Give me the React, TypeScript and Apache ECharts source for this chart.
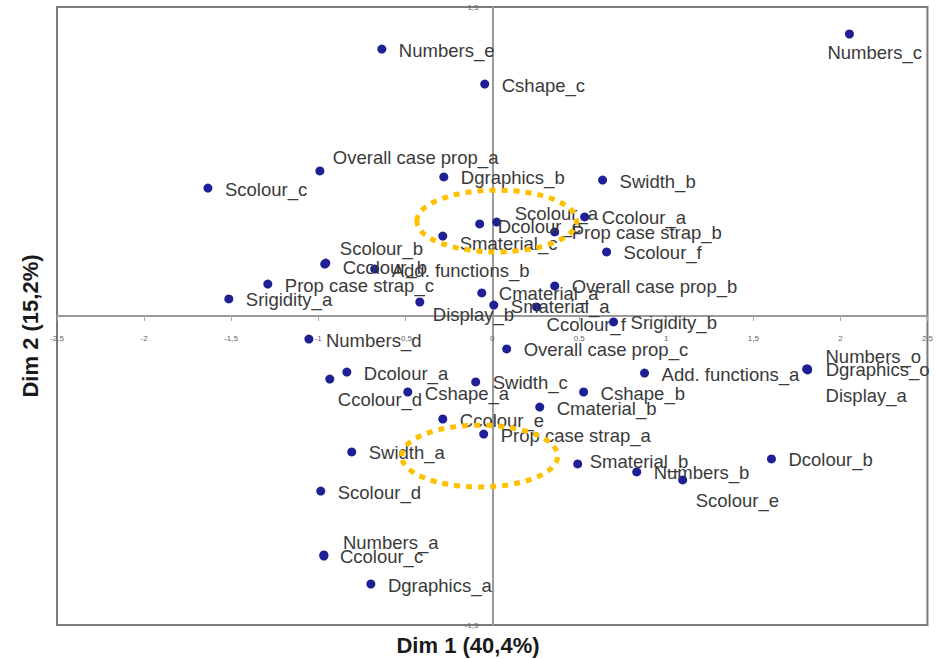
import React, { useEffect, useRef } from "react";
import * as echarts from "echarts";

const names = [
  "Numbers_c", "Numbers_e", "Cshape_c", "Overall case prop_a", "Dgraphics_b", "Swidth_b",
  "Scolour_c", "Ccolour_a", "Scolour_a", "Dcolour_c", "Smaterial_c", "Prop case strap_b",
  "Scolour_f", "Ccolour_b", "Scolour_b", "Add. functions_b", "Prop case strap_c", "Srigidity_a",
  "Display_b", "Cmaterial_a", "Smaterial_a", "Ccolour_f", "Overall case prop_b", "Srigidity_b",
  "Numbers_d", "Overall case prop_c", "Dcolour_a", "Ccolour_d", "Cshape_a", "Swidth_c",
  "Add. functions_a", "Cshape_b", "Cmaterial_b", "Ccolour_e", "Prop case strap_a", "Smaterial_b",
  "Numbers_b", "Scolour_e", "Dcolour_b", "Numbers_o", "Dgraphics_o", "Display_a",
  "Swidth_a", "Scolour_d", "Numbers_a", "Ccolour_c", "Dgraphics_a",
];

const dim1 = [
  2.052, -0.634, -0.043, -0.99, -0.278, 0.634,
  -1.633, 0.531, 0.026, -0.072, -0.284, 0.359,
  0.657, -0.962, -0.956, -0.675, -1.289, -1.513,
  -0.416, -0.06, 0.009, 0.255, 0.359, 0.697,
  -1.053, 0.083, -0.835, -0.933, -0.485, -0.095,
  0.875, 0.525, 0.273, -0.284, -0.049, 0.491,
  0.83, 1.094, 1.604, 1.811, 1.812, 1.806,
  -0.807, -0.985, -0.967, -0.967, -0.697,
];

const dim2 = [
  1.369, 1.296, 1.126, 0.704, 0.675, 0.66,
  0.621, 0.481, 0.456, 0.447, 0.388, 0.408,
  0.311, 0.252, 0.257, 0.228, 0.155, 0.083,
  0.068, 0.112, 0.053, 0.044, 0.146, -0.029,
  -0.112, -0.16, -0.272, -0.306, -0.369, -0.32,
  -0.277, -0.369, -0.442, -0.5, -0.573, -0.718,
  -0.757, -0.796, -0.694, -0.257, -0.262, -0.257,
  -0.66, -0.85, -1.16, -1.165, -1.301,
];

const xTicks = [-2.5, -2, -1.5, -1, -0.5, 0, 0.5, 1, 1.5, 2, 2.5];
const yTickLabels = [-1.5, 1.5];

// Highlight ellipses (annotations): centre and radii in data units
const ellipseCx = [0.026, -0.072];
const ellipseCy = [0.461, -0.68];
const ellipseRx = [0.459, 0.448];
const ellipseRy = [0.15, 0.15];

// label nudges (pixels from dot centre to label start / label middle)
const labelNudge: Record<string, [number, number]> = {
  "Numbers_c": [-22, 19],
  "Overall case prop_a": [13, -13],
  "Scolour_a": [18, -9],
  "Dcolour_c": [18, 3],
  "Smaterial_c": [17, 7],
  "Scolour_b": [14, -15],
  "Ccolour_b": [18, 3],
  "Display_b": [13, 13],
  "Ccolour_f": [10, 18],
  "Ccolour_d": [8, 20],
  "Smaterial_b": [12, -2],
  "Scolour_e": [13, 21],
  "Numbers_o": [18, -12],
  "Dgraphics_o": [18, 0],
  "Display_a": [19, 27],
  "Numbers_a": [19, -12],
  "Ccolour_c": [16, 1],
};

const fmt = (v: number) => String(v).replace(".", ",");

const GRID_LEFT = 57;
const GRID_TOP = 7;
const GRID_W = 871;
const GRID_H = 618;

export default function App() {
  const ref = useRef<HTMLDivElement>(null);
  useEffect(() => {
    document.body.style.margin = "0";
    if (!ref.current) return;
    const chart = echarts.init(ref.current, undefined, { renderer: "svg" });
    const font = "'Liberation Sans', Arial, sans-serif";
    const data = names.map((n, i) => ({ name: n, value: [dim1[i], dim2[i]] }));
    const xMin = -2.5, xMax = 2.5, yMin = -1.5, yMax = 1.5;
    // offsets that bring each axis onto the other axis' zero
    const xAxisOffset = -(GRID_H * (0 - yMin)) / (yMax - yMin);
    const yAxisOffset = -(GRID_W * (0 - xMin)) / (xMax - xMin);
    chart.setOption({
      animation: false,
      grid: {
        left: GRID_LEFT,
        top: GRID_TOP,
        width: GRID_W,
        height: GRID_H,
        show: true,
        borderColor: "#7a7a7a",
        borderWidth: 2,
        backgroundColor: "#fff",
      },
      xAxis: {
        type: "value",
        min: xMin,
        max: xMax,
        interval: 0.5,
        position: "bottom",
        offset: xAxisOffset,
        axisLine: { onZero: false, lineStyle: { color: "#9a9a9a", width: 2 } },
        axisTick: { show: true, length: 5, lineStyle: { color: "#aaa" } },
        axisLabel: {
          fontSize: 8,
          color: "#666",
          margin: 18,
          fontFamily: font,
          showMinLabel: true,
          showMaxLabel: true,
          formatter: (v: number) => (xTicks.includes(v) ? fmt(v) : ""),
        },
        splitLine: { show: false },
      },
      yAxis: {
        type: "value",
        min: yMin,
        max: yMax,
        interval: 0.5,
        position: "left",
        offset: yAxisOffset,
        axisLine: { onZero: false, lineStyle: { color: "#9a9a9a", width: 2 } },
        axisTick: { show: false },
        axisLabel: {
          fontSize: 8,
          color: "#666",
          margin: 14,
          fontFamily: font,
          showMinLabel: true,
          showMaxLabel: true,
          formatter: (v: number) => (yTickLabels.includes(v) ? fmt(v) : ""),
        },
        splitLine: { show: false },
      },
      series: [
        {
          type: "scatter",
          symbol: "circle",
          symbolSize: 9,
          itemStyle: { color: "#1f1f96", opacity: 1 },
          data,
          label: {
            show: true,
            position: "right",
            distance: 0,
            formatter: "{b}",
            fontSize: 18.5,
            fontFamily: font,
            color: "#3a3a3a",
          },
          labelLayout: (params: any) => {
            const nd = labelNudge[names[params.dataIndex]] || [17, 1];
            return { dx: nd[0] - 4.5, dy: nd[1], hideOverlap: false };
          },
          emphasis: { disabled: true },
        },
      ],
    });

    const ellipses = ellipseCx.map((cx, i) => {
      const c = chart.convertToPixel({ gridIndex: 0 }, [cx, ellipseCy[i]]) as number[];
      const e = chart.convertToPixel({ gridIndex: 0 }, [cx + ellipseRx[i], ellipseCy[i] + ellipseRy[i]]) as number[];
      return {
        type: "ellipse",
        shape: { cx: c[0], cy: c[1], rx: Math.abs(e[0] - c[0]), ry: Math.abs(c[1] - e[1]) },
        style: { fill: "none", stroke: "#FFC000", lineWidth: 5, lineDash: [6, 6] },
        z: 100,
      };
    });

    chart.setOption({
      graphic: [
        ...ellipses,
        {
          type: "text",
          x: 468,
          y: 645,
          style: {
            text: "Dim 1 (40,4%)",
            font: `bold 22px ${font}`,
            fill: "#1a1a1a",
            textAlign: "center",
            textVerticalAlign: "middle",
          },
        },
        {
          type: "text",
          x: 30,
          y: 326,
          rotation: Math.PI / 2,
          style: {
            text: "Dim 2 (15,2%)",
            font: `bold 22px ${font}`,
            fill: "#1a1a1a",
            textAlign: "center",
            textVerticalAlign: "middle",
          },
        },
      ],
    });
    return () => chart.dispose();
  }, []);
  return <div ref={ref} style={{ width: 936, height: 659 }} />;
}
